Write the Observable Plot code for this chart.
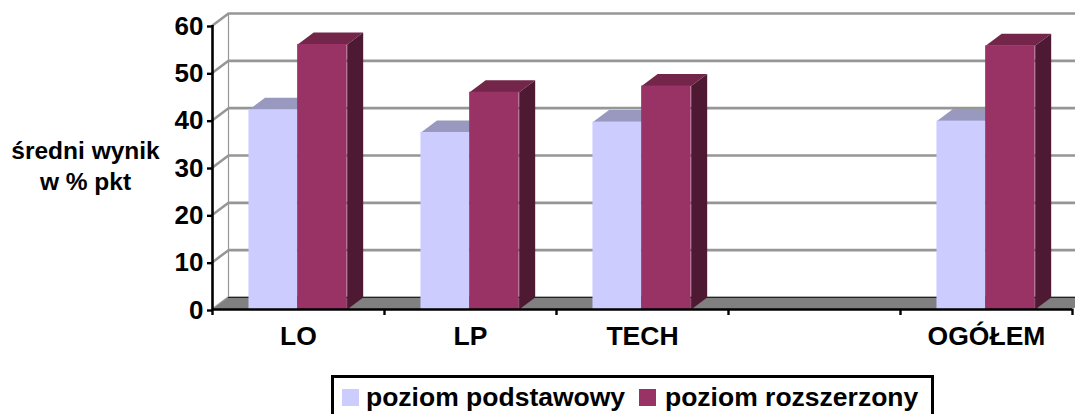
<!DOCTYPE html>
<html><head><meta charset="utf-8">
<script src="https://cdn.jsdelivr.net/npm/d3@7"></script>
<script src="https://cdn.jsdelivr.net/npm/@observablehq/plot@0.6"></script>
<style>
html,body{margin:0;padding:0;background:#fff;width:1075px;height:414px;overflow:hidden;font-family:"Liberation Sans",Arial,sans-serif}
#wrap{position:relative;width:1075px;height:414px;overflow:hidden}
#legend{position:absolute;left:331px;top:375px;width:603px;height:60px;border:3px solid #000;box-sizing:border-box;font-weight:bold;font-size:26.5px;color:#000}
#legend span{position:absolute;top:4px;white-space:nowrap;line-height:30px}
#legend i{position:absolute;top:11px;width:17px;height:17px}
</style></head><body><div id="wrap"></div>
<script>
const categories = ["LO","LP","TECH","","OGÓŁEM"];
const podstawowy = [42.2,37.4,39.6,null,39.8];
const rozszerzony = [56,45.9,47.2,null,55.7];
const yTicks = [0,10,20,30,40,50,60];
const colors = {light:"#CCCCFF",lightTop:"#9999C0",dark:"#993366",darkTop:"#732649",darkSide:"#4D1933"};
const depthX = 16/172, depthY = 12/4.733;
const barLeft = 0.212, barMid = 0.495, barRight = 0.783;

const polys = (rows) => rows.flatMap((pts,i)=>pts.map(([x,y])=>({x,y,z:i})));
const shape = (rows,fill,extra={}) => Plot.line(polys(rows),{x:"x",y:"y",z:"z",fill,stroke:null,curve:"linear-closed",...extra});

const back = yTicks.map(v=>[[0,v],[depthX,v+depthY],[5+depthX,v+depthY]]);
const gridPts = back.flatMap((p,i)=>p.map(([x,y])=>({x,y,z:i})));

const floor = [[[0,0],[depthX,depthY],[5+depthX,depthY],[5,0]]];

function barParts(vals,from,to){
  const r=[];
  categories.forEach((c,i)=>{ if(vals[i]==null) return;
    r.push({i,v:vals[i],l:i+from,r:i+to});
  });
  return r;
}
const lightBars = barParts(podstawowy,barLeft,barMid);
const darkBars = barParts(rozszerzony,barMid,barRight);
const topFace = b => [[b.l,b.v],[b.l+depthX,b.v+depthY],[b.r+depthX,b.v+depthY],[b.r,b.v]];
const sideFace = b => [[b.r,0],[b.r+depthX,depthY],[b.r+depthX,b.v+depthY],[b.r,b.v]];

const plot = Plot.plot({
  width:1075,height:360,marginLeft:212,marginRight:3,marginTop:25,marginBottom:51,
  style:{fontFamily:"Liberation Sans, Arial, sans-serif",fontWeight:"bold",background:"transparent",color:"#000"},
  x:{type:"linear",domain:[0,5]},
  y:{domain:[0,60]},
  marks:[
    Plot.line(gridPts,{x:"x",y:"y",z:"z",stroke:"#969696",strokeWidth:2.6,curve:"linear"}),
    Plot.line([{x:depthX,y:depthY},{x:depthX,y:60+depthY}],{x:"x",y:"y",stroke:"#969696",strokeWidth:1.2}),
    shape(floor,"#808080"),
    Plot.line(polys([[[depthX,depthY],[5+depthX,depthY]]]),{x:"x",y:"y",stroke:"#222",strokeWidth:1.2}),
    shape(lightBars.map(topFace),colors.lightTop),
    Plot.rect(lightBars,{x1:"l",x2:"r",y1:0,y2:"v",fill:colors.light}),
    shape(darkBars.map(topFace),colors.darkTop),
    shape(darkBars.map(sideFace),colors.darkSide),
    Plot.rect(darkBars,{x1:"l",x2:"r",y1:0,y2:"v",fill:colors.dark}),
    Plot.axisY({ticks:yTicks,tickSize:5,tickPadding:4,strokeWidth:2.4,stroke:"#000",fontSize:26,label:null,fill:"#000",dy:1}),
    Plot.ruleX([0],{y1:0,y2:60,stroke:"#000",strokeWidth:2.6}),
    Plot.ruleY([0],{stroke:"#000",strokeWidth:2.6}),
    Plot.axisX({ticks:d3.range(0,6),tickSize:6,tickFormat:()=>"",strokeWidth:2.4,stroke:"#000",label:null}),
    Plot.axisX({ticks:d3.range(0.5,5.5,1),tickSize:0,tickPadding:17,tickFormat:(d)=>categories[Math.floor(d)],fontSize:26.5,label:null,fill:"#000"}),
    Plot.text(["średni wynik\nw % pkt"],{frameAnchor:"left",y:30.7,dx:-127,textAnchor:"middle",lineHeight:1.27,fontSize:24.5,fontWeight:"bold",fill:"#000"})
  ]
});
const wrap=document.getElementById("wrap");
wrap.appendChild(plot);
const legend=document.createElement("div");legend.id="legend";
legend.innerHTML=`<i style="left:8px;background:${colors.light}"></i><span style="left:32px">poziom podstawowy</span><i style="left:305px;background:${colors.dark}"></i><span style="left:331px">poziom rozszerzony</span>`;
wrap.appendChild(legend);
</script></body></html>
